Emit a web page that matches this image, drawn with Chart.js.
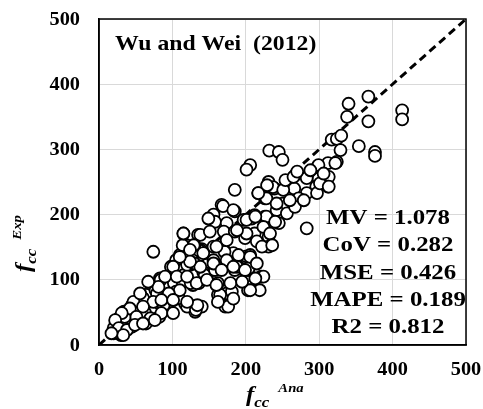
<!DOCTYPE html>
<html>
<head>
<meta charset="utf-8">
<script src="https://cdn.jsdelivr.net/npm/chart.js@4.4.1/dist/chart.umd.min.js"></script>
<style>
html,body{margin:0;padding:0;background:#fff;}
#wrap{width:483px;height:409px;position:relative;}
</style>
</head>
<body>
<div id="wrap"><canvas id="c" width="483" height="409"></canvas></div>
<script>
// ---- data ----
const tickValues = [0, 100, 200, 300, 400, 500];
const chartLabel = "Wu and Wei  (2012)";
const statLines = ["MV = 1.078", "CoV = 0.282", "MSE = 0.426", "MAPE = 0.189", "R2 = 0.812"];
const diagX = [0, 500];
const diagY = [0, 500];
// analytical f_cc (x) and experimental f_cc (y)
const anaValues = [
367,340,338,367,413,413,317,324,330,329,354,376,376,324,312,298,232,245,250,206,
201,299,322,267,283,299,313,296,312,231,239,266,283,297,185,217,226,251,242,272,
283,237,251,228,167,169,185,156,158,197,208,212,226,228,245,174,115,135,138,151,
170,185,199,217,212,231,231,215,222,74,110,140,170,183,201,206,124,124,99,147,
160,190,203,185,165,142,119,138,156,171,156,115,221,224,208,219,203,206,83,113,
128,147,162,162,174,172,176,181,183,165,162,140,144,158,172,188,204,65,77,92,
117,131,101,58,74,124,
20,25,20,30,34,43,48,55,61,64,55,68,77,86,98,105,114,120,130,136,
130,114,91,84,102,114,125,136,120,132,134,45,34,36,50,59,73,82,64,27,
45,32,95,105,109,86,27,33,42,49,60,79,47,74,88,63,35,
149,183,201,213,224,240,256,267,279,260,242,229,217,254,265,283,301,313,306,288,
270,233,236,201,188,174,160,142,129,115,124,156,174,190,206,215,199,183,167,138,
124,110,101,90,106,120,133,147,160,179,195,213,110,95,81,67,56,85,101,120,
60,42,31,51,70,85,101,22,27,38,49,60,76,33,17
];
const expValues = [
381,370,350,343,360,346,315,316,321,299,305,296,290,281,279,274,298,296,284,276,
269,276,279,260,258,255,258,243,243,250,240,240,233,233,238,233,225,217,207,225,
179,242,238,225,215,213,205,200,189,192,194,199,197,197,187,187,171,169,169,174,
174,174,164,169,171,166,151,159,151,143,138,147,146,141,136,138,123,128,118,123,
120,120,115,115,120,112,153,146,151,143,130,107,105,105,90,84,84,84,102,97,
92,105,95,77,79,59,59,82,71,77,66,59,107,115,123,120,118,77,79,84,
64,51,69,44,54,61,
18,26,26,15,33,46,51,59,72,77,69,64,84,100,120,130,135,123,125,145,
153,153,89,100,95,97,95,95,59,54,61,61,51,38,38,43,49,43,33,41,
28,20,74,82,72,69,18,33,41,51,72,79,66,66,61,49,43,
194,207,192,197,181,189,202,212,222,222,217,245,233,253,258,256,248,243,263,268,
266,171,153,171,176,161,151,141,153,171,146,125,130,138,135,125,115,120,115,120,
128,135,120,105,105,105,95,100,92,95,97,102,84,79,89,97,79,69,69,66,
59,56,49,43,41,49,49,38,26,23,31,33,38,15,18
];

const points = anaValues.map((x, i) => ({x: x, y: expValues[i]}));
const diagonal = diagX.map((x, i) => ({x: x, y: diagY[i]}));

const SERIF = '"Liberation Serif", "Times New Roman", serif';
const SX = 1.13; // horizontal stretch of the reference text

function sText(ctx, text, x, y, align, font) {
  ctx.save();
  ctx.font = font;
  ctx.textAlign = align;
  ctx.translate(x, y);
  ctx.scale(SX, 1);
  ctx.fillText(text, 0, 0);
  ctx.restore();
}

const overlay = {
  id: 'overlay',
  afterDatasetsDraw(chart) {
    const ctx = chart.ctx;
    const a = chart.chartArea;
    ctx.save();
    // frame
    ctx.strokeStyle = '#000';
    ctx.lineWidth = 1.5;
    ctx.strokeRect(a.left, a.top, a.right - a.left, a.bottom - a.top);
    ctx.fillStyle = '#000';
    ctx.textBaseline = 'alphabetic';
    sText(ctx, chartLabel, a.left + 16, a.top + 31, 'left', 'bold 21px ' + SERIF);
    statLines.forEach((s, i) => {
      sText(ctx, s, 388, 224 + i * 27.3, 'center', 'bold 22px ' + SERIF);
    });
    ctx.restore();
  },
  afterDraw(chart) {
    const ctx = chart.ctx;
    const xs = chart.scales.x, ys = chart.scales.y;
    ctx.save();
    ctx.fillStyle = '#000';
    ctx.textBaseline = 'middle';
    const tf = 'bold 18px ' + SERIF;
    xs.ticks.forEach(t => {
      sText(ctx, String(t.value), xs.getPixelForValue(t.value), 370, 'center', tf);
    });
    ys.ticks.forEach(t => {
      sText(ctx, String(t.value), 80, ys.getPixelForValue(t.value) + 1, 'right', tf);
    });
    ctx.textBaseline = 'alphabetic';
    const drawTitle = (sup) => {
      ctx.scale(SX, 1);
      ctx.textAlign = 'left';
      ctx.font = 'italic bold 22px ' + SERIF;
      ctx.fillText('f', 0, 0);
      const wf = ctx.measureText('f').width;
      ctx.font = 'italic bold 15px ' + SERIF;
      ctx.fillText('cc', wf, 6);
      const wcc = ctx.measureText('cc').width;
      ctx.font = 'italic bold 13px ' + SERIF;
      ctx.fillText(sup, wf + wcc + 8, -9);
    };
    ctx.save();
    ctx.translate(246, 401);
    drawTitle('Ana');
    ctx.restore();
    ctx.save();
    ctx.translate(30, 272);
    ctx.rotate(-Math.PI / 2);
    drawTitle('Exp');
    ctx.restore();
    ctx.restore();
  }
};

new Chart(document.getElementById('c'), {
  data: {
    datasets: [
      {
        type: 'line',
        data: diagonal,
        borderColor: '#000',
        borderWidth: 3,
        borderDash: [8, 5],
        pointRadius: 0,
        fill: false,
        order: 2
      },
      {
        type: 'scatter',
        data: points,
        pointRadius: 6,
        pointBorderWidth: 1.8,
        pointBackgroundColor: '#fff',
        pointBorderColor: '#000',
        order: 1
      }
    ]
  },
  options: {
    responsive: false,
    animation: false,
    devicePixelRatio: 1,
    layout: { padding: { left: 0, right: 17, top: 19, bottom: 0 } },
    plugins: { legend: { display: false }, tooltip: { enabled: false }, title: { display: false } },
    scales: {
      x: {
        type: 'linear', min: 0, max: 500,
        afterBuildTicks: (s) => { s.ticks = tickValues.map(v => ({value: v})); },
        afterFit: (s) => { s.height = 64; },
        ticks: { display: false },
        grid: { color: '#d9d9d9', lineWidth: 1, drawTicks: false },
        border: { display: true, color: '#000', width: 1.5 }
      },
      y: {
        type: 'linear', min: 0, max: 500,
        afterBuildTicks: (s) => { s.ticks = tickValues.map(v => ({value: v})); },
        afterFit: (s) => { s.width = 99; },
        ticks: { display: false },
        grid: { color: '#d9d9d9', lineWidth: 1, drawTicks: false },
        border: { display: true, color: '#000', width: 1.5 }
      }
    }
  },
  plugins: [overlay]
});
</script>
</body>
</html>
